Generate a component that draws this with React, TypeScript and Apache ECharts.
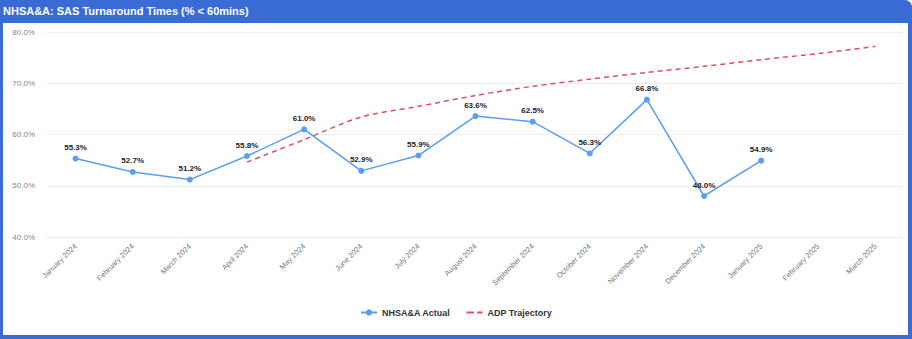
import React, { useEffect, useRef } from "react";
import * as echarts from "echarts";

const categories = [
  "January 2024", "February 2024", "March 2024", "April 2024", "May 2024", "June 2024",
  "July 2024", "August 2024", "September 2024", "October 2024", "November 2024",
  "December 2024", "January 2025", "February 2025", "March 2025",
];
const actual: (number | null)[] = [55.3, 52.7, 51.2, 55.8, 61.0, 52.9, 55.9, 63.6, 62.5, 56.3, 66.8, 48.0, 54.9, null, null];
const trajectory: (number | null)[] = [null, null, null, 54.6, 59.0, 63.4, 65.5, 67.6, 69.4, 70.8, 72.1, 73.3, 74.6, 75.8, 77.2];
const titleText = "NHSA&A: SAS Turnaround Times (% < 60mins)";

const FONT = "'Liberation Sans', Arial, sans-serif";

export default function App() {
  const ref = useRef<HTMLDivElement>(null);
  useEffect(() => {
    if (!ref.current) return;
    const chart = echarts.init(ref.current, undefined, { renderer: "svg" });
    chart.setOption({
      animation: false,
      textStyle: { fontFamily: FONT },
      title: {
        text: titleText,
        left: 3,
        top: 5,
        padding: 0,
        textStyle: { color: "#ffffff", fontSize: 11, fontWeight: "bold", fontFamily: FONT },
      },
      grid: { left: 47, right: 8, top: 32, bottom: 102, containLabel: false },
      legend: {
        bottom: 17,
        left: "center",
        itemGap: 16,
        itemWidth: 16,
        itemHeight: 8,
        symbolKeepAspect: true,
        textStyle: { fontSize: 9, color: "#333", fontWeight: "bold", fontFamily: FONT },
        data: [
          { name: "NHSA&A Actual" },
          { name: "ADP Trajectory", icon: "path://M0,0h7v2h-7z M10,0h5v2h-5z" },
        ],
      },
      xAxis: {
        type: "category",
        data: categories,
        boundaryGap: true,
        axisLine: { show: true, lineStyle: { color: "#eeeeee" } },
        axisTick: { show: false },
        axisLabel: { rotate: 45, fontSize: 7.5, color: "#777", margin: 8, interval: 0 },
      },
      yAxis: {
        type: "value",
        min: 40,
        max: 80,
        interval: 10,
        axisLine: { show: false },
        axisTick: { show: false },
        splitLine: { lineStyle: { color: "#eeeeee" } },
        axisLabel: {
          fontSize: 8,
          color: "#888",
          margin: 12,
          formatter: (v: number) => v.toFixed(1) + "%",
        },
      },
      series: [
        {
          name: "NHSA&A Actual",
          type: "line",
          data: actual,
          symbol: "circle",
          symbolSize: 6,
          itemStyle: { color: "#5b9ef0" },
          lineStyle: { color: "#5b9ef0", width: 1.5 },
          label: {
            show: true,
            position: "top",
            distance: 4,
            fontSize: 8,
            fontWeight: "bold",
            color: "#222",
            formatter: (p: any) => Number(p.value).toFixed(1) + "%",
          },
        },
        {
          name: "ADP Trajectory",
          type: "line",
          data: trajectory,
          symbol: "none",
          smooth: 0.3,
          itemStyle: { color: "#e0505a" },
          lineStyle: { color: "#e0505a", width: 1.5, type: [5, 4] },
        },
      ],
    });
    return () => chart.dispose();
  }, []);

  return (
    <div style={{ position: "fixed", left: 0, top: 0, width: 912, height: 339, background: "#ffffff" }}>
      <div
        style={{
          position: "absolute",
          left: 0,
          top: 0,
          width: 912,
          height: 339,
          boxSizing: "border-box",
          border: "3px solid #3a6bd4",
          borderTopWidth: 0,
          borderBottomWidth: 4,
          borderRightWidth: 4,
          borderTopRightRadius: 8,
        }}
      />
      <div
        style={{
          position: "absolute",
          left: 0,
          top: 0,
          width: 912,
          height: 23,
          background: "#3a6bd4",
          borderTopRightRadius: 8,
        }}
      />
      <div ref={ref} style={{ position: "absolute", left: 0, top: 0, width: 912, height: 339 }} />
    </div>
  );
}
